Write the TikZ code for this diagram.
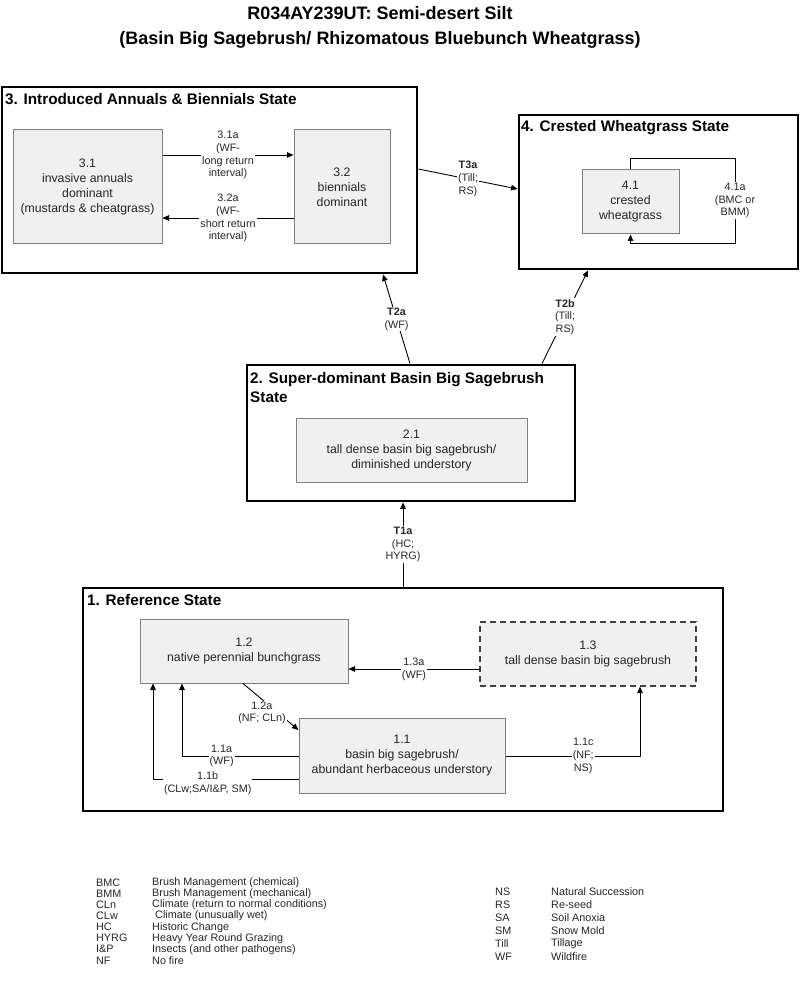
\documentclass[tikz,border=0pt]{standalone}
\usepackage{fontspec}
\setmainfont{Liberation Sans}
\usetikzlibrary{arrows.meta}
\newcommand\fsz[2]{\fontsize{#1}{#2}\selectfont}
\begin{document}
\begin{tikzpicture}[x=1pt,y=-1pt,
  statebox/.style={draw=black, line width=2.8pt, inner sep=0pt},
  inbox/.style={draw=black!50, fill=black!6, line width=1pt, align=center, inner sep=0pt, font=\fsz{12.3}{15}, text=black!85},
  dashbox/.style={inbox, draw=black!75, line width=1.2pt, dash pattern=on 6pt off 4pt},
  sttitle/.style={anchor=base west, inner sep=0pt, font=\fsz{15.3}{19}\bfseries},
  lab/.style={fill=white, inner sep=1pt, align=center, font=\fsz{10.8}{12.7}, text=black!85},
  arr/.style={draw=black, line width=0.9pt, -{Triangle[length=6.5pt,width=5.5pt]}},
  leg/.style={anchor=west, inner sep=0pt, font=\fsz{10.8}{11}, text=black!85}]
\useasboundingbox (0,0) rectangle (800,981);
\fill[white] (0,0) rectangle (800,981);

% title
\node[font=\fsz{18}{25}\bfseries, align=center] (title) at (380,27.5)
  {R034AY239UT: Semi-desert Silt\\(Basin Big Sagebrush/ Rhizomatous Bluebunch Wheatgrass)};

% state boxes
\node[statebox, minimum width=415pt, minimum height=186pt] (s3) at (209.5,180) {};
\node[statebox, minimum width=279pt, minimum height=154pt] (s4) at (658.5,192) {};
\node[statebox, minimum width=328pt, minimum height=136pt] (s2) at (411,433) {};
\node[statebox, minimum width=640pt, minimum height=223pt] (s1) at (403,699.5) {};

\node[sttitle] (s3t) at (5,105) {3. Introduced Annuals \& Biennials State};
\node[sttitle] (s4t) at (521,132) {4. Crested Wheatgrass State};
\node[sttitle] (s2t) at (250,383) {2. Super-dominant Basin Big Sagebrush};
\node[sttitle] (s2t2) at (250,402) {State};
\node[sttitle] (s1t) at (87,605) {1. Reference State};

% community boxes
\node[inbox, minimum width=149pt, minimum height=114pt] (b31) at (87.5,187)
  {3.1\\invasive annuals\\dominant\\(mustards \& cheatgrass)};
\node[inbox, minimum width=96pt, minimum height=114pt] (b32) at (342,187)
  {3.2\\biennials\\dominant};
\node[inbox, minimum width=97pt, minimum height=64pt] (b41) at (630.5,202)
  {4.1\\crested\\wheatgrass};
\node[inbox, minimum width=231pt, minimum height=64pt] (b21) at (411.5,450)
  {2.1\\tall dense basin big sagebrush/\\diminished understory};
\node[inbox, minimum width=208pt, minimum height=64pt] (b12) at (244,651)
  {1.2\\native perennial bunchgrass};
\node[dashbox, minimum width=216pt, minimum height=64pt] (b13) at (588,654)
  {1.3\\tall dense basin big sagebrush};
\node[inbox, minimum width=206pt, minimum height=75pt] (b11) at (402,755.5)
  {1.1\\basin big sagebrush/\\abundant herbaceous understory};

% state 3 internal
\draw[arr] ([yshift=32pt]b31.east) -- node[lab]{3.1a\\(WF-\\long return\\interval)} ([yshift=32pt]b32.west);
\draw[arr] ([yshift=-31pt]b32.west) -- node[lab]{3.2a\\(WF-\\short return\\interval)} ([yshift=-31pt]b31.east);

% state 4 loop
\coordinate (l1) at (735,158);
\coordinate (l2) at (735,243);
\draw[arr] (b41.north) |- (l1) -- node[lab]{4.1a\\(BMC or\\BMM)} (l2) -| (b41.south);

% transitions between states
\draw[arr] ([yshift=11pt]s3.east) -- node[lab]{\textbf{T3a}\\(Till;\\RS)} ([yshift=3pt]s4.west);
\draw[arr] ([xshift=-1pt]s2.north) -- node[lab]{\textbf{T2a}\\(WF)} ([xshift=173.5pt]s3.south);
\draw[arr] ([xshift=131pt]s2.north) -- node[lab]{\textbf{T2b}\\(Till;\\RS)} ([xshift=-70.5pt]s4.south);
\draw[arr] (s1.north) -- node[lab]{\textbf{T1a}\\(HC;\\HYRG)} (s1.north |- s2.south);

% state 1 internal
\draw[arr] ([yshift=-15pt]b13.west) coordinate (a13) -- node[lab]{1.3a\\(WF)} (a13 -| b12.east);
\draw[arr] ([xshift=-1pt]b12.south) -- node[lab, pos=0.63, xshift=-16pt]{1.2a\\(NF; CLn)} ([yshift=25.5pt]b11.west);
\draw[arr] ([yshift=-0.5pt]b11.west) -| node[lab, pos=0.33]{1.1a\\(WF)} ([xshift=-62pt]b12.south);
\draw[arr] ([yshift=-23.5pt]b11.west) -| node[lab, pos=0.312, yshift=-4.5pt]{1.1b\\(CLw;SA/I\&P, SM)} ([xshift=-91pt]b12.south);
\draw[arr] ([yshift=-0.5pt]b11.east) -| node[lab, pos=0.289]{1.1c\\(NF;\\NS)} ([xshift=52pt]b13.south);

% legend
\foreach \a/\d [count=\i] in {BMC/Brush Management (chemical), BMM/Brush Management (mechanical),
  CLn/Climate (return to normal conditions), CLw/\hspace{3pt}Climate (unusually wet), HC/Historic Change,
  HYRG/Heavy Year Round Grazing, I\&P/Insects (and other pathogens), NF/No fire}{
  \node[leg] (la\i) at (96,{883+11.05*(\i-1)}) {\a};
  \node[leg] (ld\i) at (152,{883+11.05*(\i-1)}) {\d};
}
\foreach \a/\d [count=\i] in {NS/Natural Succession, RS/Re-seed, SA/Soil Anoxia, SM/Snow Mold,
  Till/Tillage, WF/Wildfire}{
  \node[leg] (ra\i) at (495,{892+13*(\i-1)}) {\a};
  \node[leg] (rd\i) at (551,{892+13*(\i-1)}) {\d};
}
\end{tikzpicture}
\end{document}
